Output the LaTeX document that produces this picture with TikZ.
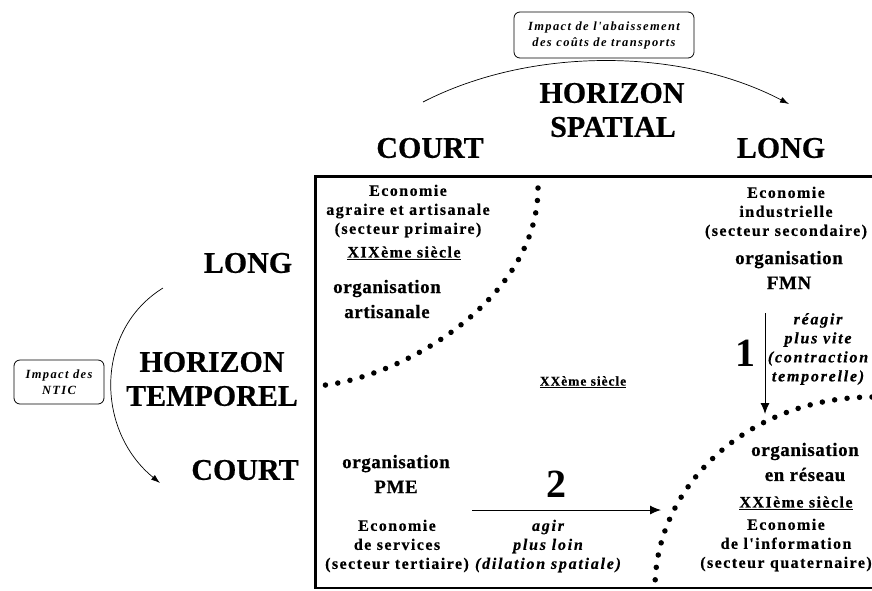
\documentclass[tikz,border=0pt]{standalone}
\usepackage{fontspec}
\setmainfont{Liberation Serif}[Ligatures=TeXOff]
\usetikzlibrary{arrows.meta}
\begin{document}
\begin{tikzpicture}[x=1pt,y=-1pt,
 big/.style={font=\fontsize{30}{34}\selectfont\bfseries\addfontfeature{FakeBold=0.6}, inner sep=0pt},
 org/.style={font=\fontsize{19}{25}\selectfont\bfseries\addfontfeature{LetterSpace=3,FakeBold=0.6}, align=center, inner sep=0pt},
 sm/.style={font=\fontsize{16}{19}\selectfont\bfseries\addfontfeature{LetterSpace=9,FakeBold=0.5}, align=center, inner sep=0pt},
 smsm/.style={font=\fontsize{13.5}{17}\selectfont\bfseries\addfontfeature{LetterSpace=7,FakeBold=0.5}, align=center, inner sep=0pt},
 smit/.style={font=\fontsize{16}{19}\selectfont\bfseries\itshape\addfontfeature{LetterSpace=11,FakeBold=0.5}, align=center, inner sep=0pt},
 num/.style={font=\fontsize{40}{42}\selectfont\bfseries, inner sep=0pt},
 impact/.style={draw, rounded corners=6pt, line width=0.8pt, align=center, inner sep=0pt,
   font=\fontsize{12.5}{16}\selectfont\bfseries\itshape\addfontfeature{LetterSpace=11}},
 dots/.style={line width=5.5pt, line cap=round, dash pattern=on 0pt off 12.5pt},
 arc/.style={line width=0.7pt, -{Latex[length=9pt,width=6pt]}},
 arr/.style={line width=1pt, -{Latex[length=11pt,width=9pt]}},
]
\useasboundingbox (0,0) rectangle (872,590);

% frame
\draw[line width=3pt] (872,176) -- (315,176) -- (315,589);
\draw[line width=1.5pt] (315,588) -- (872,588);

% top
\node[impact, minimum width=180pt, minimum height=46pt] (tbox) at (604,35) {Impact de l'abaissement\\des coûts de transports};
\coordinate (ta) at (423,102);
\coordinate (tb) at (789,104);
\draw[arc] (ta) .. controls (530,47) and (680,47) .. (tb);
\node[big] (hs1) at (612,93) {HORIZON};
\node[big] (hs2) at (613,127) {SPATIAL};
\node[big] (tcourt) at (430,148) {COURT};
\node[big] (tlong) at (781,148) {LONG};

% left
\node[impact, minimum width=90pt, minimum height=44pt] (lbox) at (59,382) {Impact des\\NTIC};
\coordinate (la) at (163,288);
\coordinate (lb) at (160,483);
\draw[arc] (la) .. controls (95,330) and (95,430) .. (lb);
\node[big] (llong) at (248,263) {LONG};
\node[big] (ht1) at (212,362) {HORIZON};
\node[big] (ht2) at (212,396) {TEMPOREL};
\node[big] (lcourt) at (245,470) {COURT};

% dotted curves
\draw[dots] (538,188) .. controls (538,300) and (400,380) .. (316,386);
\draw[dots] (872,397) .. controls (752,397) and (655,483) .. (655,588);

% top-left quadrant
\node[sm] (ecoA) at (408,211) {Economie\\agraire et artisanale\\(secteur primaire)};
\node[sm] (xix) at (404,253) {\underline{XIXème siècle}};
\node[org] (orgA) at (387,299) {organisation\\artisanale};

% top-right quadrant
\node[sm] (ecoI) at (786,213) {Economie\\industrielle\\(secteur secondaire)};
\node[org] (orgF) at (789,270) {organisation\\FMN};
\node[num] (one) at (745,353) {1};
\node[smit] (reag) at (818,349) {réagir\\plus vite\\(contraction\\temporelle)};
\coordinate (a1s) at (765,313);
\coordinate (a1e) at (765,414);
\draw[arr] (a1s) -- (a1e);

% center
\node[smsm] (xx) at (583,382) {\underline{XXème siècle}};

% bottom-right
\node[org] (orgR) at (805,462) {organisation\\en réseau};
\node[sm] (xxi) at (796,503) {\underline{XXIème siècle}};
\node[sm] (ecoQ) at (786,545) {Economie\\de l'information\\(secteur quaternaire)};

% bottom-left
\node[org] (orgP) at (396,474) {organisation\\PME};
\node[sm] (ecoS) at (397,546) {Economie\\de services\\(secteur tertiaire)};
\node[num] (two) at (556,484) {2};
\node[smit] (agir) at (548,546) {agir\\plus loin\\(dilation spatiale)};
\coordinate (a2s) at (472,510);
\coordinate (a2e) at (661,510);
\draw[arr] (a2s) -- (a2e);
\end{tikzpicture}
\end{document}
